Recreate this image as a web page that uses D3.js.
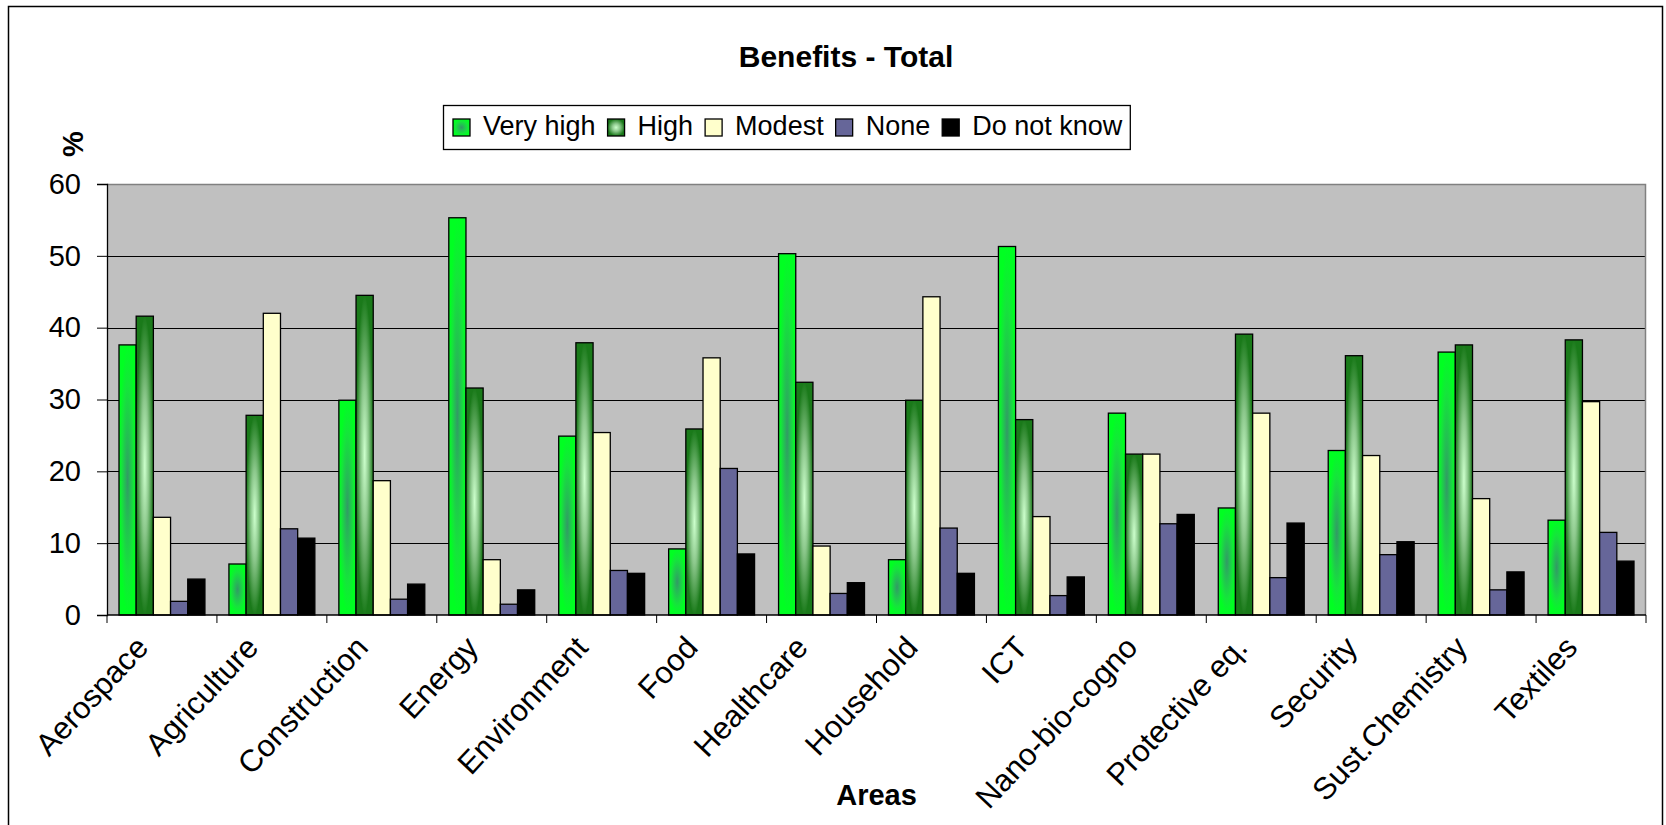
<!DOCTYPE html>
<html>
<head>
<meta charset="utf-8">
<script src="https://cdn.jsdelivr.net/npm/d3@7"></script>
<style>
  body { margin: 0; background: #fff; }
  svg { display: block; font-family: "Liberation Sans", Arial, sans-serif; }
</style>
</head>
<body>
<div id="chart"></div>
<script>
// categories along the x axis
const categories = ["Aerospace", "Agriculture", "Construction", "Energy", "Environment", "Food",
  "Healthcare", "Household", "ICT", "Nano-bio-cogno", "Protective eq.", "Security",
  "Sust.Chemistry", "Textiles"];

const seriesNames = ["Very high", "High", "Modest", "None", "Do not know"];

// values in %
const veryHigh = [37.6, 7.1, 29.9, 55.3, 24.9, 9.2, 50.3, 7.7, 51.3, 28.1, 14.9, 22.9, 36.6, 13.2];
const high = [41.6, 27.8, 44.5, 31.6, 37.9, 25.9, 32.4, 29.9, 27.2, 22.4, 39.1, 36.1, 37.6, 38.3];
const modest = [13.6, 42.0, 18.7, 7.7, 25.4, 35.8, 9.6, 44.3, 13.7, 22.4, 28.1, 22.2, 16.2, 29.7];
const none = [1.9, 12.0, 2.2, 1.5, 6.2, 20.4, 3.0, 12.1, 2.7, 12.7, 5.2, 8.4, 3.5, 11.5];
const doNotKnow = [5.0, 10.7, 4.3, 3.5, 5.8, 8.5, 4.5, 5.8, 5.3, 14.0, 12.8, 10.2, 6.0, 7.5];

const yTicks = [0, 10, 20, 30, 40, 50, 60];

const seriesValues = [veryHigh, high, modest, none, doNotKnow];
const fills = ["url(#gradVeryHigh)", "url(#gradHigh)", "#FFFFCC", "#666699", "#000000"];

// build rows for the grouped bars
const data = categories.map(function (c, i) {
  return {
    area: c,
    values: seriesNames.map(function (s, j) {
      return { key: s, value: seriesValues[j][i], fill: fills[j] };
    })
  };
});

const W = 1666, H = 825;
const margin = { top: 184, right: 20, bottom: 210, left: 107 },
  width = 1539,
  height = 431;

const svg = d3.select("#chart")
  .append("svg")
  .attr("width", W)
  .attr("height", H);

// gradients for the two green series
const defs = svg.append("defs");
const g1 = defs.append("radialGradient").attr("id", "gradVeryHigh")
  .attr("cx", "50%").attr("cy", "50%").attr("r", "50%");
g1.append("stop").attr("offset", "0").attr("stop-color", "#339966");
g1.append("stop").attr("offset", "0.3").attr("stop-color", "#25bb55");
g1.append("stop").attr("offset", "0.7").attr("stop-color", "#14e63a");
g1.append("stop").attr("offset", "1").attr("stop-color", "#00ff22");

const g2 = defs.append("radialGradient").attr("id", "gradHigh")
  .attr("cx", "50%").attr("cy", "50%").attr("r", "50%");
g2.append("stop").attr("offset", "0").attr("stop-color", "#ccffcc");
g2.append("stop").attr("offset", "0.45").attr("stop-color", "#8cc88c");
g2.append("stop").attr("offset", "1").attr("stop-color", "#1a7a1a");

// outer chart frame
svg.append("rect")
  .attr("x", 8.5).attr("y", 6.5)
  .attr("width", 1654).attr("height", 840)
  .attr("fill", "#fff")
  .attr("stroke", "#000")
  .attr("stroke-width", 1.5);

const g = svg.append("g")
  .attr("transform", `translate(${margin.left}, ${margin.top})`);

// scales
const x0 = d3.scaleBand().domain(categories).range([0, width]).padding(0);
const x1 = d3.scaleBand().domain(seriesNames).range([12, x0.bandwidth() - 12]);
const y = d3.scaleLinear().domain([0, 60]).range([height, 0]);

// plot area
g.append("rect")
  .attr("width", width)
  .attr("height", height)
  .attr("fill", "#C0C0C0");

// gridlines
g.selectAll(".grid")
  .data(yTicks.filter(function (t) { return t > 0 && t < 60; }))
  .join("line")
  .attr("x1", 0)
  .attr("x2", width)
  .attr("y1", function (d) { return Math.round(y(d)) + 0.5; })
  .attr("y2", function (d) { return Math.round(y(d)) + 0.5; })
  .attr("stroke", "#000")
  .attr("stroke-width", 1);

// top and right border of plot
g.append("path")
  .attr("d", `M0,0.5H${width - 0.5}V${height}`)
  .attr("fill", "none")
  .attr("stroke", "#808080")
  .attr("stroke-width", 1.5);

// bars
const groups = g.selectAll(".area")
  .data(data)
  .join("g")
  .attr("transform", function (d) { return `translate(${x0(d.area)}, 0)`; });

groups.selectAll("rect")
  .data(function (d) { return d.values; })
  .join("rect")
  .attr("x", function (d) { return x1(d.key); })
  .attr("y", function (d) { return y(d.value); })
  .attr("width", x1.bandwidth())
  .attr("height", function (d) { return height - y(d.value); })
  .attr("fill", function (d) { return d.fill; })
  .attr("stroke", "#000")
  .attr("stroke-width", 1.3);

// y axis
const yAxis = g.append("g")
  .call(d3.axisLeft(y).tickValues(yTicks).tickSize(10).tickPadding(16));
yAxis.select(".domain").attr("stroke", "#000").attr("stroke-width", 1.3);
yAxis.selectAll(".tick line").attr("stroke", "#000");
yAxis.selectAll("text")
  .style("font-size", "29px")
  .style("font-family", "'Liberation Sans', Arial, sans-serif")
  .attr("fill", "#000");

// x axis line and boundary ticks
g.append("line")
  .attr("x1", 0).attr("x2", width)
  .attr("y1", height).attr("y2", height)
  .attr("stroke", "#000")
  .attr("stroke-width", 1.5);

g.selectAll(".xtick")
  .data(categories.map(function (c) { return x0(c); }).concat([width]))
  .join("line")
  .attr("x1", function (d) { return d; })
  .attr("x2", function (d) { return d; })
  .attr("y1", height)
  .attr("y2", height + 8)
  .attr("stroke", "#000");

// rotated category labels
g.selectAll(".xlabel")
  .data(categories)
  .join("text")
  .attr("text-anchor", "end")
  .attr("transform", function (d) {
    return `translate(${x0(d) + x0.bandwidth() / 2 - 12}, ${height + 34}) rotate(-47)`;
  })
  .style("font-size", "31px")
  .text(function (d) { return d; });

// title
svg.append("text")
  .attr("x", 846)
  .attr("y", 67)
  .attr("text-anchor", "middle")
  .style("font-size", "30px")
  .style("font-weight", "bold")
  .text("Benefits - Total");

// axis titles
svg.append("text")
  .attr("x", margin.left + width / 2)
  .attr("y", 805)
  .attr("text-anchor", "middle")
  .style("font-size", "29px")
  .style("font-weight", "bold")
  .text("Areas");

svg.append("text")
  .attr("transform", "translate(83, 144) rotate(-90)")
  .attr("text-anchor", "middle")
  .style("font-size", "29px")
  .style("font-weight", "bold")
  .text("%");

// legend
const legend = svg.append("g");
const legendBox = legend.append("rect")
  .attr("x", 443.5).attr("y", 105.5)
  .attr("height", 44)
  .attr("fill", "#fff")
  .attr("stroke", "#000")
  .attr("stroke-width", 1.3);

let lx = 453;
seriesNames.forEach(function (s, j) {
  legend.append("rect")
    .attr("x", lx).attr("y", 119)
    .attr("width", 17).attr("height", 17)
    .attr("fill", fills[j])
    .attr("stroke", "#000")
    .attr("stroke-width", 1.3);
  const t = legend.append("text")
    .attr("x", lx + 30)
    .attr("y", 135)
    .style("font-size", "27px")
    .text(s);
  lx = lx + 30 + t.node().getComputedTextLength() + 12;
});
legendBox.attr("width", lx - 443.5 - 4);
</script>
</body>
</html>
